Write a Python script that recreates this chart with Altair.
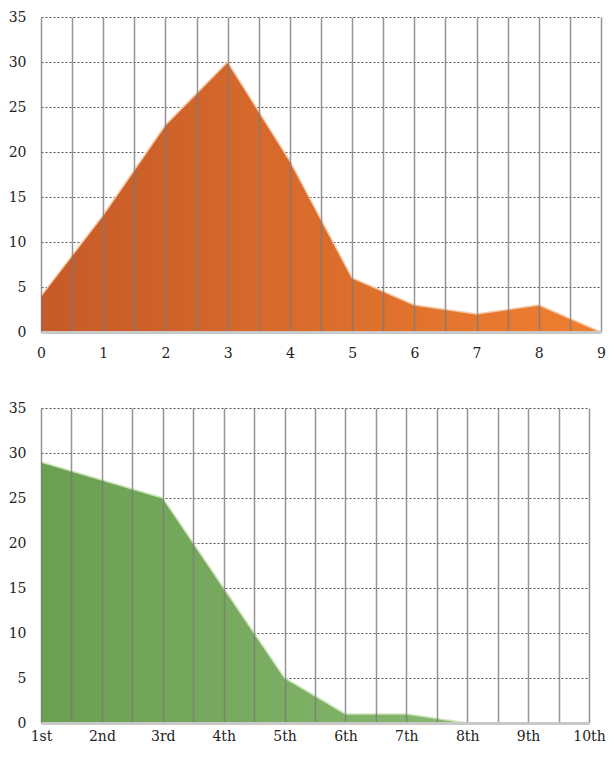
import json
import altair as alt
import pandas as pd

# Top chart data
top_x = [0, 1, 2, 3, 4, 5, 6, 7, 8, 9]
top_y = [4, 13, 23, 30, 19, 6, 3, 2, 3, 0]

# Bottom chart data
bottom_labels = ["1st", "2nd", "3rd", "4th", "5th", "6th", "7th", "8th", "9th", "10th"]
bottom_pos = [1, 2, 3, 4, 5, 6, 7, 8, 9, 10]
bottom_y = [29, 27, 25, 15, 5, 1, 1, 0, 0, 0]

y_ticks = [0, 5, 10, 15, 20, 25, 30, 35]

FONT = "DejaVu Serif"

top_df = pd.DataFrame({"x": top_x, "y": top_y})
bot_df = pd.DataFrame({"x": bottom_pos, "y": bottom_y})


def x_axis(values, label_expr, pad):
    return alt.Axis(
        values=values, labelExpr=label_expr, grid=True, gridColor="#7a7a7a",
        gridWidth=1.5, gridOpacity=0.8, ticks=False, domain=True,
        domainColor="#c8c8c8", domainWidth=3, labelPadding=pad, zindex=1,
        title=None, labelFont=FONT, labelFontSize=14, labelColor="#222",
        labelOverlap=False, labelFlush=False,
    )


y_axis = alt.Axis(
    values=y_ticks, grid=True, gridColor="#555", gridDash=[2, 2], gridWidth=1.2,
    ticks=False, domain=False, labelPadding=15, title=None, labelFont=FONT,
    labelFontSize=14, labelColor="#222", zindex=0,
)

y_scale = alt.Scale(domain=[0, 35], nice=False)


def panel(df, xdomain, values, label_expr, pad, c1, c2, stroke, width):
    xenc = alt.X("x:Q", scale=alt.Scale(domain=xdomain, nice=False),
                 axis=x_axis(values, label_expr, pad))
    yenc = alt.Y("y:Q", scale=y_scale, axis=y_axis)
    area = alt.Chart(df).mark_area(
        color=alt.Gradient(gradient="linear", x1=0, x2=1, y1=0, y2=0,
                           stops=[alt.GradientStop(color=c1, offset=0),
                                  alt.GradientStop(color=c2, offset=1)]),
        opacity=1,
    ).encode(x=xenc, y=yenc)
    line = alt.Chart(df).mark_line(color=stroke, strokeWidth=1.5).encode(x=xenc, y=yenc)
    return (area + line).properties(width=width, height=315)


top_vals = [v / 2 for v in range(0, 19)]
top_expr = "datum.value % 1 == 0 ? format(datum.value, 'd') : ''"
bot_vals = [v / 2 for v in range(2, 21)]
bot_expr = ("datum.value % 1 == 0 ? " + json.dumps(bottom_labels)
            + "[datum.value - 1] : ''")

top = panel(top_df, [0, 9], top_vals, top_expr, 14,
            "#c65a28", "#ef7f30", "#f6c9a6", 560)
bottom = panel(bot_df, [1, 10], bot_vals, bot_expr, 6,
               "#6a9f50", "#90bf7a", "#cbe4b8", 548)

chart = alt.vconcat(top, bottom, spacing=41).properties(
    padding={"top": 2, "left": 0, "right": 0, "bottom": 0}
).configure_view(stroke=None)

chart.save("out.html", embed_options={"renderer": "svg", "actions": False})
